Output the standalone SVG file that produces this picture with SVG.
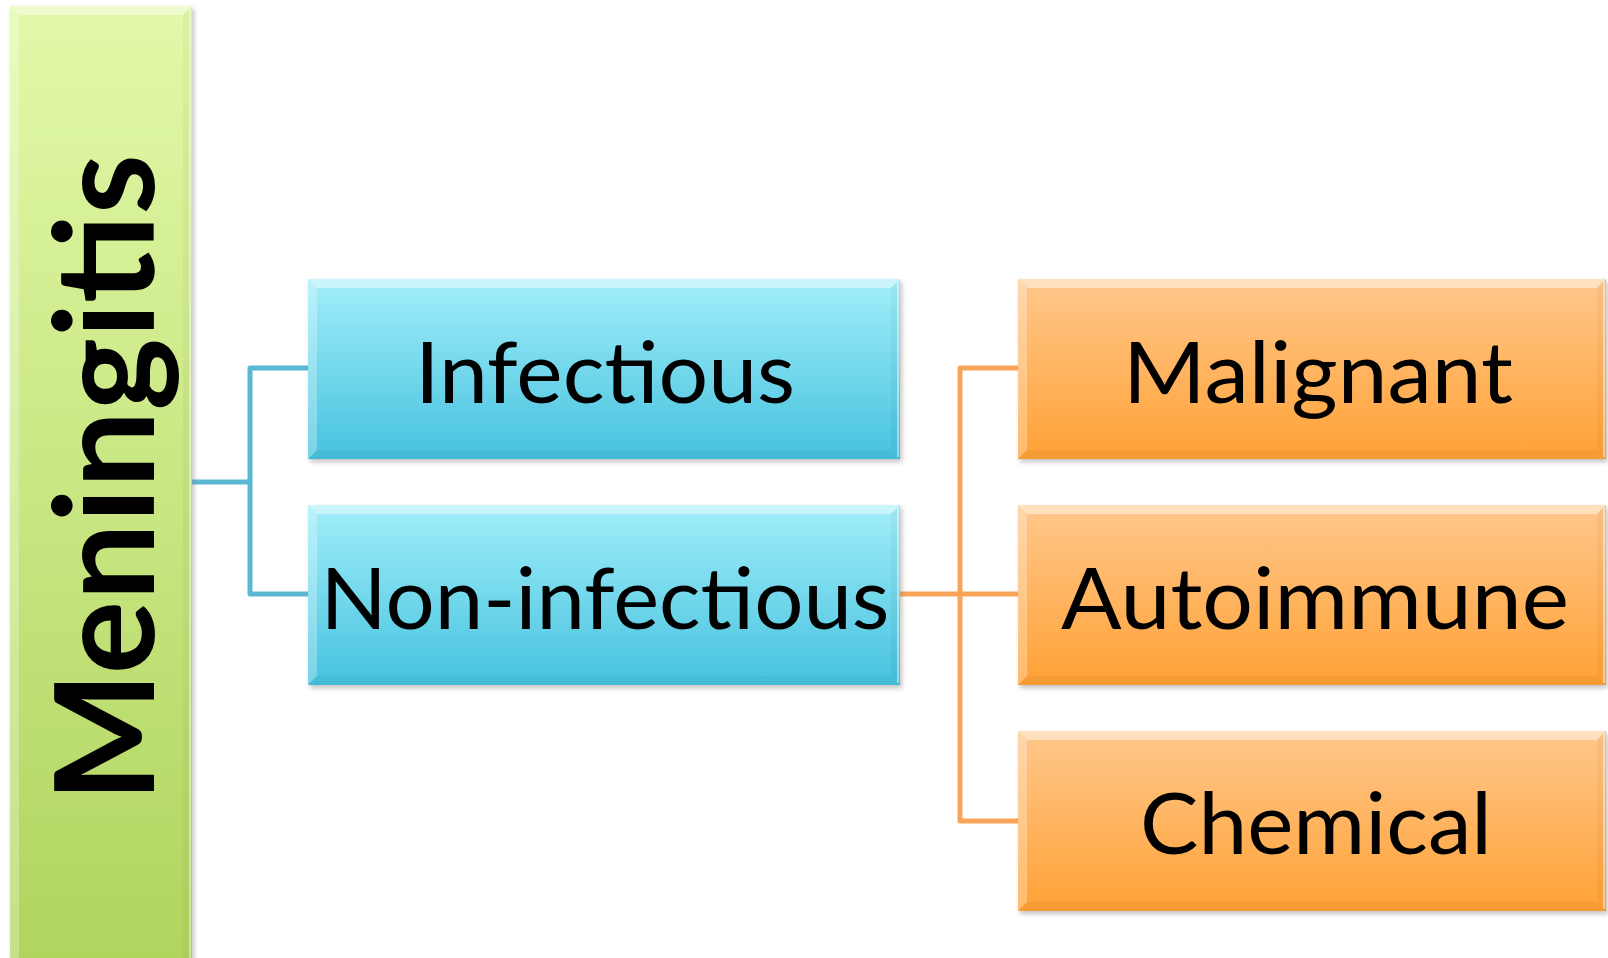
<svg xmlns="http://www.w3.org/2000/svg" width="1608" height="958" viewBox="0 0 1608 958">
  <style>
    .lbl { font-family: Lato, "Open Sans", "Liberation Sans", sans-serif; fill: #000; text-anchor: middle; }
    .sub { font-size: 86px; font-weight: 400; }
    .root { font-size: 137px; font-weight: 700; }
    .shadow { fill: #7a7a7a; opacity: 0.45; filter: url(#blur); }
    .bv-top { fill: #ffffff; opacity: 0.45; }
    .bv-left { fill: #ffffff; opacity: 0.28; }
    .bv-right { fill: #000000; opacity: 0.03; }
    .bv-bot { fill: #000000; opacity: 0.04; }
    .edge { fill: none; stroke: #ffffff; stroke-opacity: 0.6; stroke-width: 1.5; }
    .wire-b { fill: none; stroke: #5ab8d2; stroke-width: 5; stroke-linejoin: round; }
    .wire-o { fill: none; stroke: #f8a55a; stroke-width: 5; stroke-linejoin: round; }
  </style>
  <defs>
    <filter id="blur" x="-5%" y="-5%" width="110%" height="115%">
      <feGaussianBlur stdDeviation="2.5"/>
    </filter>
    <linearGradient id="gGreen" x1="0" y1="0" x2="0" y2="1">
      <stop offset="0" stop-color="#e2f9a8"/>
      <stop offset="1" stop-color="#b0d45e"/>
    </linearGradient>
    <linearGradient id="gBlue" x1="0" y1="0" x2="0" y2="1">
      <stop offset="0" stop-color="#a2eefa"/>
      <stop offset="1" stop-color="#46c2de"/>
    </linearGradient>
    <linearGradient id="gOrange" x1="0" y1="0" x2="0" y2="1">
      <stop offset="0" stop-color="#ffc78c"/>
      <stop offset="1" stop-color="#ffa236"/>
    </linearGradient>
  </defs>

  <rect width="1608" height="958" fill="#ffffff"/>

  <!-- connectors -->
  <g id="connectors">
    <path class="wire-b" d="M192,482 H250 M308,368 H250 V594 H308"/>
    <path class="wire-o" d="M900,594 H1018 M1018,368 H960 V821 H1018"/>
  </g>

  <!-- root node -->
  <g id="node-meningitis">
    <rect class="shadow" x="12" y="9" width="182" height="960"/>
    <rect x="10" y="6" width="182" height="960" fill="url(#gGreen)"/>
    <polygon class="bv-top" points="10,6 192,6 183,15 19,15"/>
    <polygon class="bv-left" points="10,6 19,15 19,957 10,966"/>
    <polygon class="bv-right" points="192,6 192,966 183,957 183,15"/>
    <line class="edge" x1="190" y1="8" x2="190" y2="958"/>
    <text class="lbl root" transform="translate(154,478) rotate(-90)" x="0" y="0" textLength="648" lengthAdjust="spacingAndGlyphs">Meningitis</text>
  </g>

  <!-- second level -->
  <g id="node-infectious">
    <rect class="shadow" x="310" y="282" width="592" height="180"/>
    <rect x="308" y="279" width="592" height="180" fill="url(#gBlue)"/>
    <polygon class="bv-top" points="308,279 900,279 891,288 317,288"/>
    <polygon class="bv-left" points="308,279 317,288 317,450 308,459"/>
    <polygon class="bv-right" points="900,279 900,459 891,450 891,288"/>
    <polygon class="bv-bot" points="308,459 900,459 891,450 317,450"/>
    <line class="edge" x1="898" y1="281" x2="898" y2="457"/>
    <text class="lbl sub" x="605" y="403" textLength="380" lengthAdjust="spacingAndGlyphs">Infectious</text>
  </g>

  <g id="node-noninfectious">
    <rect class="shadow" x="310" y="508" width="592" height="180"/>
    <rect x="308" y="505" width="592" height="180" fill="url(#gBlue)"/>
    <polygon class="bv-top" points="308,505 900,505 891,514 317,514"/>
    <polygon class="bv-left" points="308,505 317,514 317,676 308,685"/>
    <polygon class="bv-right" points="900,505 900,685 891,676 891,514"/>
    <polygon class="bv-bot" points="308,685 900,685 891,676 317,676"/>
    <line class="edge" x1="898" y1="507" x2="898" y2="683"/>
    <text class="lbl sub" x="605" y="629" textLength="569" lengthAdjust="spacingAndGlyphs">Non-infectious</text>
  </g>

  <!-- third level -->
  <g id="node-malignant">
    <rect class="shadow" x="1020" y="282" width="588" height="180"/>
    <rect x="1018" y="279" width="588" height="180" fill="url(#gOrange)"/>
    <polygon class="bv-top" points="1018,279 1606,279 1597,288 1027,288"/>
    <polygon class="bv-left" points="1018,279 1027,288 1027,450 1018,459"/>
    <polygon class="bv-right" points="1606,279 1606,459 1597,450 1597,288"/>
    <polygon class="bv-bot" points="1018,459 1606,459 1597,450 1027,450"/>
    <line class="edge" x1="1604" y1="281" x2="1604" y2="457"/>
    <text class="lbl sub" x="1318" y="403" textLength="390" lengthAdjust="spacingAndGlyphs">Malignant</text>
  </g>

  <g id="node-autoimmune">
    <rect class="shadow" x="1020" y="508" width="588" height="180"/>
    <rect x="1018" y="505" width="588" height="180" fill="url(#gOrange)"/>
    <polygon class="bv-top" points="1018,505 1606,505 1597,514 1027,514"/>
    <polygon class="bv-left" points="1018,505 1027,514 1027,676 1018,685"/>
    <polygon class="bv-right" points="1606,505 1606,685 1597,676 1597,514"/>
    <polygon class="bv-bot" points="1018,685 1606,685 1597,676 1027,676"/>
    <line class="edge" x1="1604" y1="507" x2="1604" y2="683"/>
    <text class="lbl sub" x="1315" y="629" textLength="508" lengthAdjust="spacingAndGlyphs">Autoimmune</text>
  </g>

  <g id="node-chemical">
    <rect class="shadow" x="1020" y="734" width="588" height="180"/>
    <rect x="1018" y="731" width="588" height="180" fill="url(#gOrange)"/>
    <polygon class="bv-top" points="1018,731 1606,731 1597,740 1027,740"/>
    <polygon class="bv-left" points="1018,731 1027,740 1027,902 1018,911"/>
    <polygon class="bv-right" points="1606,731 1606,911 1597,902 1597,740"/>
    <polygon class="bv-bot" points="1018,911 1606,911 1597,902 1027,902"/>
    <line class="edge" x1="1604" y1="733" x2="1604" y2="909"/>
    <text class="lbl sub" x="1316" y="854" textLength="352" lengthAdjust="spacingAndGlyphs">Chemical</text>
  </g>
</svg>
